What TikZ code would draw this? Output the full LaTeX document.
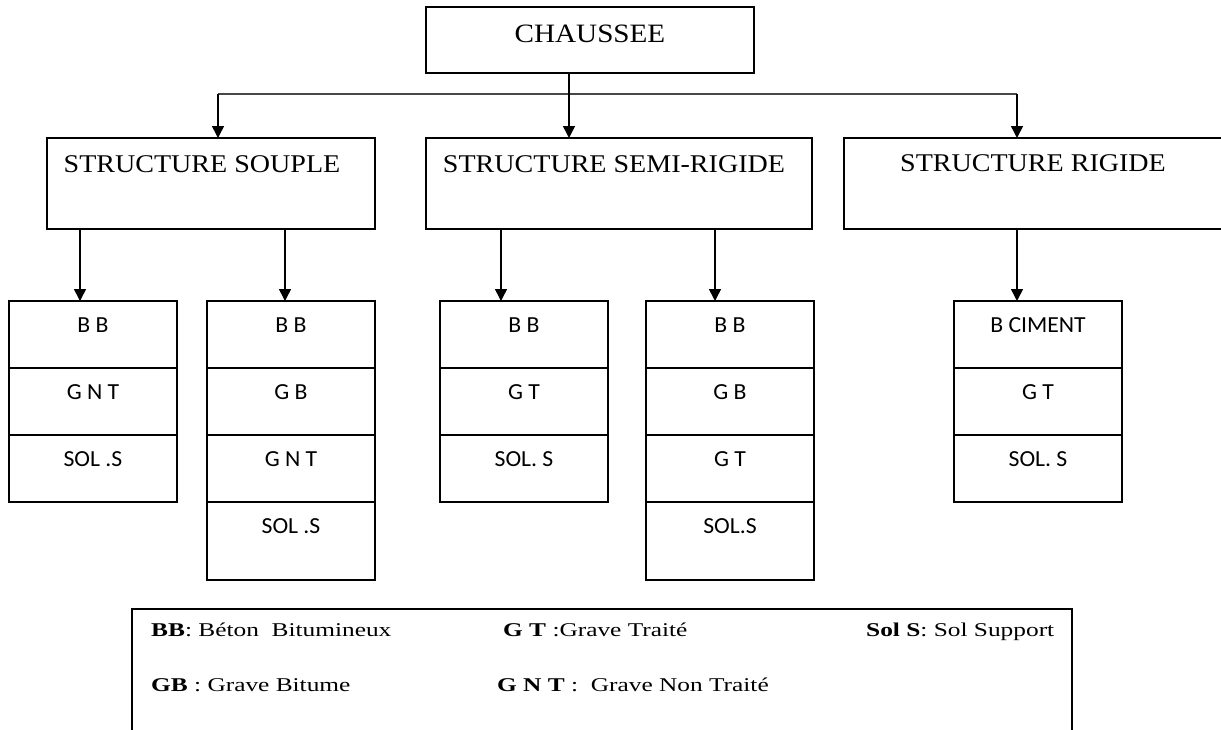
\documentclass[tikz,border=0pt]{standalone}
\usepackage{fontspec}
\setmainfont{Liberation Serif}
\newfontfamily\tnrfont[FakeStretch=1.1]{Liberation Serif}
\newfontfamily\legfont[FakeStretch=1.3]{Liberation Serif}
\newfontfamily\calfont[FakeStretch=1.03]{Carlito}
\usetikzlibrary{arrows.meta}
\begin{document}
\begin{tikzpicture}[x=1pt,y=-1pt,
  box/.style={draw, line width=2pt, inner sep=0pt, outer sep=0pt, anchor=north west},
  layer/.style={box, minimum width=168pt, minimum height=67pt},
  lastlayer/.style={box, minimum width=168pt, minimum height=78pt},
  title/.style={anchor=base, inner sep=0pt, font=\tnrfont\fontsize{25.5}{30}\selectfont},
  ltext/.style={anchor=base, inner sep=0pt, font=\calfont\fontsize{23}{27}\selectfont},
  legtext/.style={anchor=base west, inner sep=0pt, font=\legfont\fontsize{19.5}{23}\selectfont},
  arr/.style={line width=1.5pt, -{Triangle[length=12pt,width=12pt]}},
  hline/.style={line width=1.6pt, draw=black!72}]
\useasboundingbox (0,0) rectangle (1221,729);

% top level
\node[box, minimum width=328pt, minimum height=66pt] (chaussee) at (426,7) {};
\node[title, font=\tnrfont\fontsize{26.5}{30}\selectfont] (tchaussee) at (590,42) {CHAUSSEE};

% structures
\node[box, minimum width=328pt, minimum height=91pt] (souple) at (47,138) {};
\node[title] (tsouple) at (202,172) {STRUCTURE SOUPLE};
\node[box, minimum width=386pt, minimum height=91pt] (semi) at (426,138) {};
\node[title] (tsemi) at (614,172) {STRUCTURE SEMI-RIGIDE};
\node[box, minimum width=380pt, minimum height=91pt] (rigide) at (844,138) {};
\node[title] (trigide) at (1033,171) {STRUCTURE RIGIDE};

% connectors top
\coordinate (hl) at (218,94);
\coordinate (hm) at (569,94);
\coordinate (hr) at (1017,94);
\draw[hline] (hl) -- (hr);
\draw[arr] (hl) -- (hl |- souple.north);
\draw[arr] (chaussee.south -| hm) -- (semi.north -| hm);
\draw[arr] (hr) -- (hr |- rigide.north);

% stack 1
\node[layer] (s1a) at (9,301) {};
\node[layer] (s1b) at (9,368) {};
\node[layer] (s1c) at (9,435) {};
\node[ltext] (t1a) at (93,332) {B B};
\node[ltext] (t1b) at (93,399) {G N T};
\node[ltext] (t1c) at (93,466) {SOL .S};

% stack 2
\node[layer] (s2a) at (207,301) {};
\node[layer] (s2b) at (207,368) {};
\node[layer] (s2c) at (207,435) {};
\node[lastlayer] (s2d) at (207,502) {};
\node[ltext] (t2a) at (291,332) {B B};
\node[ltext] (t2b) at (291,399) {G B};
\node[ltext] (t2c) at (291,466) {G N T};
\node[ltext] (t2d) at (291,533) {SOL .S};

% stack 3
\node[layer] (s3a) at (440,301) {};
\node[layer] (s3b) at (440,368) {};
\node[layer] (s3c) at (440,435) {};
\node[ltext] (t3a) at (524,332) {B B};
\node[ltext] (t3b) at (524,399) {G T};
\node[ltext] (t3c) at (524,466) {SOL. S};

% stack 4
\node[layer] (s4a) at (646,301) {};
\node[layer] (s4b) at (646,368) {};
\node[layer] (s4c) at (646,435) {};
\node[lastlayer] (s4d) at (646,502) {};
\node[ltext] (t4a) at (730,332) {B B};
\node[ltext] (t4b) at (730,399) {G B};
\node[ltext] (t4c) at (730,466) {G T};
\node[ltext] (t4d) at (730,533) {SOL.S};

% stack 5
\node[layer] (s5a) at (954,301) {};
\node[layer] (s5b) at (954,368) {};
\node[layer] (s5c) at (954,435) {};
\node[ltext] (t5a) at (1038,332) {B CIMENT};
\node[ltext] (t5b) at (1038,399) {G T};
\node[ltext] (t5c) at (1038,466) {SOL. S};

% connectors to stacks
\coordinate (a1) at (80,301);
\coordinate (a2) at (285,301);
\coordinate (a3) at (501,301);
\coordinate (a4) at (715,301);
\coordinate (a5) at (1017,301);
\draw[arr] (souple.south -| a1) -- (s1a.north -| a1);
\draw[arr] (souple.south -| a2) -- (s2a.north -| a2);
\draw[arr] (semi.south -| a3) -- (s3a.north -| a3);
\draw[arr] (semi.south -| a4) -- (s4a.north -| a4);
\draw[arr] (rigide.south -| a5) -- (s5a.north -| a5);

% legend
\node[box, minimum width=940pt, minimum height=140pt] (legend) at (132,609) {};
\node[legtext] (l1) at (151,636) {\textbf{BB}: Béton\ \ Bitumineux};
\node[legtext] (l2) at (503,636) {\textbf{G T} :Grave Traité};
\node[legtext] (l3) at (866,636) {\textbf{Sol S}: Sol Support};
\node[legtext] (l4) at (151,691) {\textbf{GB} : Grave Bitume};
\node[legtext] (l5) at (497,691) {\textbf{G N T} :\ \ Grave Non Traité};
\end{tikzpicture}
\end{document}
